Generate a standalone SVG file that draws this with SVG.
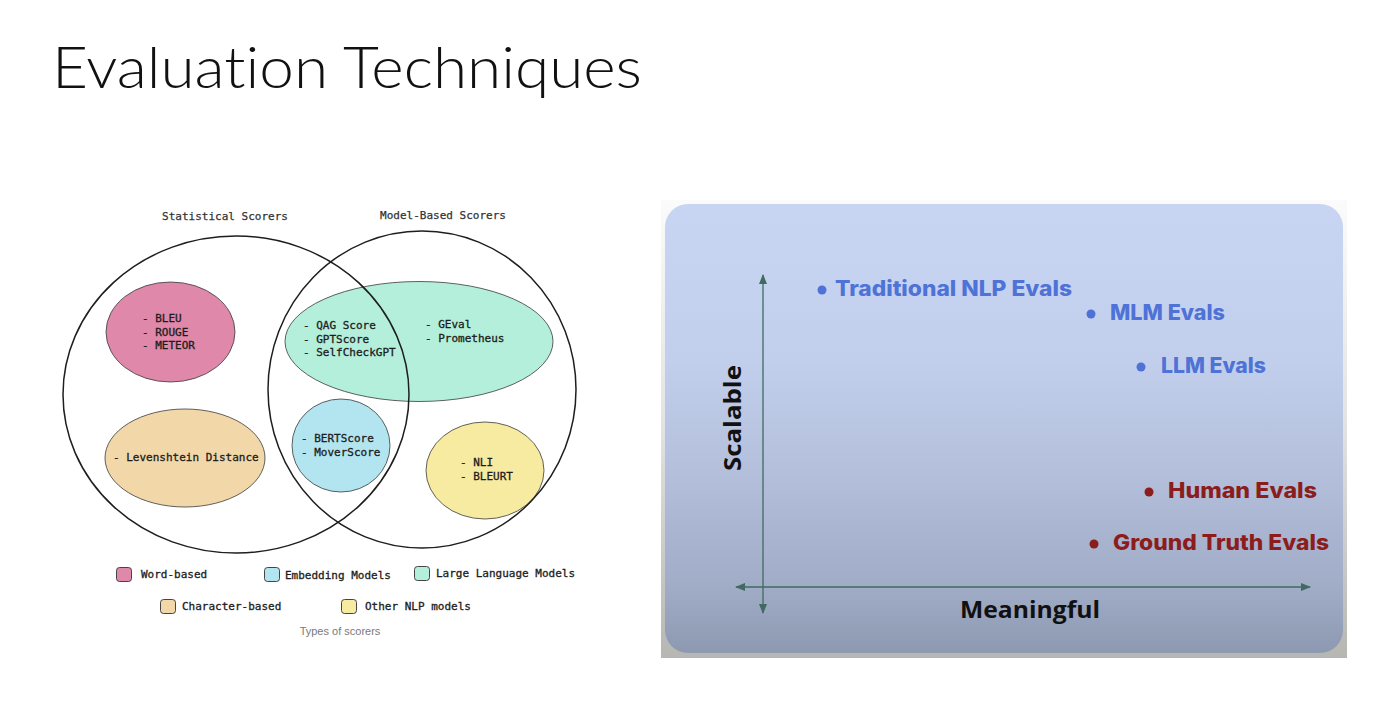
<svg xmlns="http://www.w3.org/2000/svg" width="1376" height="710" viewBox="0 0 1376 710">
  <defs>
    <linearGradient id="frameGrad" x1="0" y1="0" x2="0" y2="1">
      <stop offset="0" stop-color="#fbfbfb"/>
      <stop offset="0.5" stop-color="#e2e2e2"/>
      <stop offset="1" stop-color="#b6b6b3"/>
    </linearGradient>
    <linearGradient id="panelGrad" x1="0" y1="0" x2="0" y2="1">
      <stop offset="0" stop-color="#c7d5f3"/>
      <stop offset="0.35" stop-color="#c2cfec"/>
      <stop offset="0.6" stop-color="#b3bfdb"/>
      <stop offset="0.85" stop-color="#a1acc7"/>
      <stop offset="1" stop-color="#8d98b1"/>
    </linearGradient>
    <marker id="axisHead" viewBox="0 0 10 8" refX="9" refY="4" markerWidth="10" markerHeight="8" markerUnits="userSpaceOnUse" orient="auto-start-reverse">
      <path d="M0,0 L10,4 L0,8 z" fill="#3f6b60"/>
    </marker>
    <style>
      .mono { font-family: "DejaVu Sans Mono", "Liberation Mono", monospace; font-size: 11px; fill: #1c1c1c; stroke: #1c1c1c; stroke-width: 0.3; }
      .setTitle { font-family: "DejaVu Sans Mono", "Liberation Mono", monospace; font-size: 11px; fill: #333; stroke: #333; stroke-width: 0.25; }
      .blob { stroke: #3a3a3a; stroke-width: 0.8; }
      .set { fill: none; stroke: #1e1e1e; stroke-width: 1.5; }
      .swatch { stroke: #444; stroke-width: 1; }
      .axis { stroke: #3f6b60; stroke-width: 1.3; fill: none; }
      .axisLabel { font-family: "Open Sans", "Noto Sans", "Liberation Sans", sans-serif; font-weight: 700; font-size: 24px; fill: #111; }
      .ptLabel { font-family: "Inter", "Lato", "Liberation Sans", sans-serif; font-weight: 800; font-size: 21px; }
      .blue { fill: #4e72d6; }
      .red { fill: #8c1d1d; }
    </style>
  </defs>

  <rect width="1376" height="710" fill="#ffffff"/>

  <!-- Slide title -->
  <text x="52" y="88" font-family="Lato, 'Open Sans', 'Liberation Sans', sans-serif" font-weight="300" font-size="58" fill="#111" style="font-variant-ligatures: none; font-feature-settings: 'liga' 0;" textLength="590" lengthAdjust="spacingAndGlyphs">Evaluation Techniques</text>

  <!-- ===== Venn diagram of scorer types ===== -->
  <g id="venn">
    <text class="setTitle" x="225" y="220" text-anchor="middle">Statistical Scorers</text>
    <text class="setTitle" x="443" y="219" text-anchor="middle">Model-Based Scorers</text>

    <g id="word-based">
      <ellipse class="blob" cx="170.5" cy="332" rx="64.5" ry="50" fill="#df88a9"/>
    </g>
    <g id="llm">
      <ellipse class="blob" cx="419" cy="341.5" rx="134" ry="60" fill="#b3efdb"/>
    </g>
    <g id="character-based">
      <ellipse class="blob" cx="185" cy="458" rx="80" ry="49" fill="#f2d8a9"/>
    </g>
    <g id="embedding">
      <ellipse class="blob" cx="341" cy="445.5" rx="49" ry="46.5" fill="#b2e5f0"/>
    </g>
    <g id="other-nlp">
      <ellipse class="blob" cx="485" cy="470.5" rx="59" ry="48.5" fill="#f6eba1"/>
    </g>

    <!-- set outlines -->
    <g id="sets">
      <ellipse class="set" cx="236" cy="394.5" rx="173" ry="158.5"/>
      <ellipse class="set" cx="422" cy="389.5" rx="154" ry="158.5"/>
    </g>

    <!-- member labels -->
    <text class="mono" x="142" y="322">- BLEU</text>
    <text class="mono" x="142" y="336">- ROUGE</text>
    <text class="mono" x="142" y="349">- METEOR</text>

    <text class="mono" x="303" y="329">- QAG Score</text>
    <text class="mono" x="303" y="343">- GPTScore</text>
    <text class="mono" x="303" y="356">- SelfCheckGPT</text>
    <text class="mono" x="425" y="328">- GEval</text>
    <text class="mono" x="425" y="342">- Prometheus</text>

    <text class="mono" x="113" y="461">- Levenshtein Distance</text>

    <text class="mono" x="301" y="442">- BERTScore</text>
    <text class="mono" x="301" y="456">- MoverScore</text>

    <text class="mono" x="460" y="466">- NLI</text>
    <text class="mono" x="460" y="480">- BLEURT</text>
  </g>

  <!-- legend -->
  <g id="legend">
    <rect class="swatch" x="116.5" y="567.5" width="15" height="14" rx="3" fill="#df88a9"/>
    <text class="mono" x="141" y="578">Word-based</text>
    <rect class="swatch" x="264.5" y="567.5" width="15" height="14" rx="3" fill="#b2e5f0"/>
    <text class="mono" x="285" y="579">Embedding Models</text>
    <rect class="swatch" x="414.5" y="566.5" width="15" height="14" rx="3" fill="#b3efdb"/>
    <text class="mono" x="436" y="577">Large Language Models</text>
    <rect class="swatch" x="160.5" y="599.5" width="15" height="14" rx="3" fill="#f2d8a9"/>
    <text class="mono" x="182" y="610">Character-based</text>
    <rect class="swatch" x="341.5" y="599.5" width="15" height="14" rx="3" fill="#f6eba1"/>
    <text class="mono" x="365" y="610">Other NLP models</text>
    <text x="340" y="635" text-anchor="middle" font-family="'Liberation Sans', Arial, sans-serif" font-size="11" fill="#7a7a7a">Types of scorers</text>
  </g>

  <!-- ===== Scalable vs meaningful chart ===== -->
  <g id="chart-panel">
    <rect x="661" y="200" width="686" height="458" fill="url(#frameGrad)"/>
    <rect x="665" y="204" width="678" height="449" rx="23" ry="23" fill="url(#panelGrad)"/>
  </g>

  <g id="axes">
    <line class="axis" x1="763" y1="275" x2="763" y2="613" marker-start="url(#axisHead)" marker-end="url(#axisHead)"/>
    <line class="axis" x1="736" y1="587" x2="1310" y2="587" marker-start="url(#axisHead)" marker-end="url(#axisHead)"/>
  </g>

  <text class="axisLabel" x="0" y="0" transform="translate(741 418) rotate(-90)" text-anchor="middle" textLength="106" lengthAdjust="spacingAndGlyphs">Scalable</text>
  <text class="axisLabel" x="1030" y="618" text-anchor="middle" textLength="140" lengthAdjust="spacingAndGlyphs">Meaningful</text>

  <g id="traditional-nlp">
    <circle class="blue" cx="822" cy="290" r="4.5"/>
    <text class="ptLabel blue" x="835" y="296" textLength="237" lengthAdjust="spacingAndGlyphs">Traditional NLP Evals</text>
  </g>
  <g id="mlm">
    <circle class="blue" cx="1091" cy="314" r="4.5"/>
    <text class="ptLabel blue" x="1110" y="320" textLength="115" lengthAdjust="spacingAndGlyphs">MLM Evals</text>
  </g>
  <g id="llm-evals">
    <circle class="blue" cx="1141" cy="367" r="4.5"/>
    <text class="ptLabel blue" x="1161" y="373" textLength="105" lengthAdjust="spacingAndGlyphs">LLM Evals</text>
  </g>
  <g id="human">
    <circle class="red" cx="1149" cy="492" r="4.5"/>
    <text class="ptLabel red" x="1168" y="498" textLength="149" lengthAdjust="spacingAndGlyphs">Human Evals</text>
  </g>
  <g id="ground-truth">
    <circle class="red" cx="1094" cy="544" r="4.5"/>
    <text class="ptLabel red" x="1113" y="550" textLength="216" lengthAdjust="spacingAndGlyphs">Ground Truth Evals</text>
  </g>
</svg>
